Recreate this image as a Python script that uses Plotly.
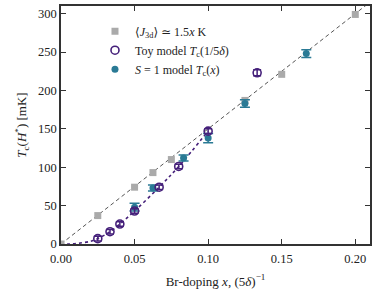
import plotly.graph_objects as go

# Gray squares: <J_3d> ~ 1.5x K
j3d_x = [0.0, 0.025, 0.05, 0.0625, 0.075, 0.125, 0.15, 0.2]
j3d_y = [0.0, 37, 74, 93, 110, 187, 221, 299]

# Reference dashed line 1.5x K (in mK)
line_x = [0.0, 0.21]
line_y = [0.0, 315.0]

# Toy model Tc(1/5delta)
toy_x = [0.025, 0.0333, 0.04, 0.05, 0.0667, 0.08, 0.1, 0.1333]
toy_y = [7, 16, 26, 43, 74, 101, 147, 223]
toy_err = [3, 3, 3, 3, 3, 3, 3, 4]

# Toy model curve (dotted)
curve_x = [0.0, 0.006, 0.012, 0.02, 0.025, 0.0333, 0.04, 0.05, 0.0667, 0.08, 0.1]
curve_y = [0.0, 0.0, 1.0, 3.5, 7, 16, 26, 43, 74, 101, 147]

# S = 1 model Tc(x)
s1_x = [0.05, 0.0625, 0.0833, 0.1, 0.125, 0.1667]
s1_y = [48, 73, 112, 138, 183, 248]
s1_err = [5, 4, 4, 6, 5, 5]

gray = "#aaaaaa"
purple = "#45207a"
teal = "#2a7a95"
font_family = "Liberation Serif, DejaVu Serif, serif"

fig = go.Figure()

fig.add_trace(go.Scatter(x=line_x, y=line_y, mode="lines",
                         line=dict(color="#555555", width=1, dash="4px,3px"),
                         showlegend=False, hoverinfo="skip"))
fig.add_trace(go.Scatter(x=curve_x, y=curve_y, mode="lines",
                         line=dict(color=purple, width=1.6, dash="dot", shape="spline"),
                         showlegend=False, hoverinfo="skip"))

fig.add_trace(go.Scatter(x=j3d_x, y=j3d_y, mode="markers",
                         marker=dict(symbol="square", size=7, color=gray),
                         legendrank=1,
                         name="⟨<i>J</i><sub>3d</sub>⟩ ≃ 1.5<i>x</i> K"))
fig.add_trace(go.Scatter(x=s1_x, y=s1_y, mode="markers",
                         marker=dict(symbol="circle", size=7, color=teal),
                         error_y=dict(type="data", array=s1_err, color=teal,
                                      thickness=1.5, width=5),
                         legendrank=3,
                         name="<i>S</i> = 1 model <i>T</i><sub>c</sub>(<i>x</i>)"))
fig.add_trace(go.Scatter(x=toy_x, y=toy_y, mode="markers",
                         marker=dict(symbol="circle-open", size=8, color=purple,
                                     line=dict(width=1.6, color=purple)),
                         error_y=dict(type="data", array=toy_err, color=purple,
                                      thickness=1.5, width=4),
                         legendrank=2,
                         name="Toy model <i>T</i><sub>c</sub>(1/5<i>δ</i>)"))

axis_common = dict(showline=True, linecolor="#333333", linewidth=1.5, mirror="ticks",
                   ticks="inside", ticklen=5, tickwidth=1.2, tickcolor="#333333",
                   showgrid=False, zeroline=False, automargin=False,
                   tickfont=dict(family=font_family, size=12.5, color="#222222"))

fig.update_layout(
    width=382, height=294,
    margin=dict(l=61, r=12, t=6, b=50),
    paper_bgcolor="white", plot_bgcolor="white",
    font=dict(family=font_family, color="#222222"),
    xaxis=dict(range=[0, 0.21], tickvals=[0, 0.05, 0.1, 0.15, 0.2],
               ticktext=["0.00", "0.05", "0.10", "0.15", "0.20"],
               ticklabelstandoff=2,
               title=dict(text="Br-doping <i>x</i>, (5<i>δ</i>)<sup>−1</sup>",
                          font=dict(family=font_family, size=13), standoff=12),
               **axis_common),
    yaxis=dict(range=[0, 310], tickvals=[0, 50, 100, 150, 200, 250, 300],
               title=dict(text="<i>T</i><sub>c</sub>(<i>H</i><sup>*</sup>) [mK]",
                          font=dict(family=font_family, size=13), standoff=8),
               **axis_common),
    legend=dict(x=0.11, y=0.955, xanchor="left", yanchor="top",
                bgcolor="rgba(255,255,255,0)", borderwidth=0,
                font=dict(family=font_family, size=12),
                tracegroupgap=0, itemwidth=30,
                traceorder="normal"),
)

fig.write_html("out.html",
               config={"displayModeBar": False},
               post_script="document.body.style.margin='0';document.body.style.overflow='hidden';")
